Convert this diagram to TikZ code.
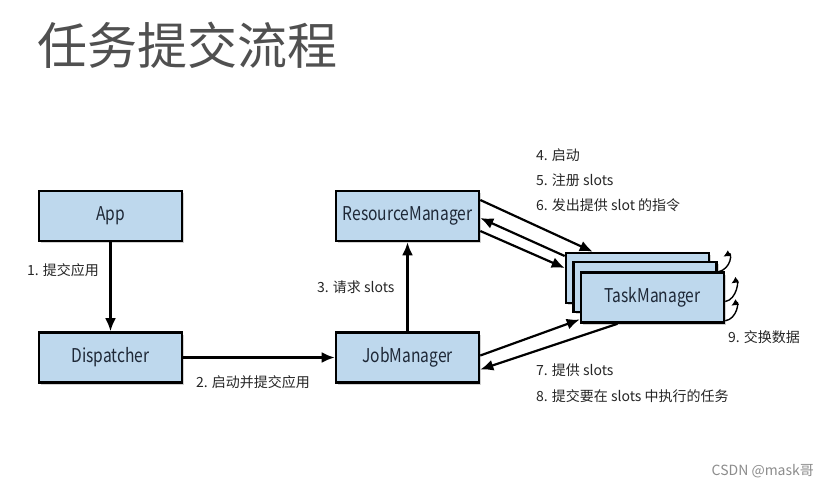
\documentclass[tikz,border=0pt]{standalone}
\usepackage{fontspec}
\setmainfont{Noto Sans CJK SC}
\usepackage{xcolor}
\usepackage{graphicx}
\usetikzlibrary{arrows.meta}
\usetikzlibrary{shadows}
\tikzset{>={Latex[length=13pt,width=11pt]}}
\definecolor{boxblue}{RGB}{190,216,237}
\definecolor{titlegray}{RGB}{80,80,80}
\definecolor{boxtext}{RGB}{30,40,55}
\newcommand{\cond}[1]{\scalebox{0.82}[1]{#1}}
\tikzset{box/.style = {draw=black,line width=2.6pt,fill=boxblue,minimum width=143pt,minimum height=50pt,inner sep=0pt,text=boxtext,font=\fontsize{19}{22}\selectfont,drop shadow={shadow xshift=2pt,shadow yshift=-2pt,opacity=0.35}}}
\tikzset{lbl/.style = {anchor=west,inner sep=0pt,text=black!85,font=\fontsize{14}{17}\selectfont}}
\tikzset{loop/.style = {->,line width=1.4pt,>={Latex[length=7pt,width=7pt]}}}

\begin{document}
\begin{tikzpicture}[x=1pt,y=-1pt,line width=2.2pt]
    \useasboundingbox[fill=white] (0,0) rectangle (828,490);
    \node[anchor=west,inner sep=0pt,text=titlegray,font=\fontsize{50}{56}\selectfont] (title) at (36,45) {任务提交流程};

    \node[box] (app) at (110.5,216) {\cond{App}};
    \node[box] (dispatcher) at (110.5,357.5) {\cond{Dispatcher}};
    \node[box] (resmgr) at (407.5,216) {\cond{ResourceManager}};
    \node[box] (jobmgr) at (407.5,357.5) {\cond{JobManager}};
    \node[box] (tmback) at (637.5,278) {};
    \node[box] (tmmid) at (645,287) {};
    \node[box] (tmfront) at (652.5,297.5) {\cond{TaskManager}};

    \draw[->] (app) -- (dispatcher);
    \draw[->] (dispatcher) -- (jobmgr);
    \draw[->] (jobmgr) -- (resmgr);

    \draw[->] ([yshift=16pt]resmgr.east) -- ([xshift=28pt]tmback.north west);
    \draw[->] ([yshift=22pt]tmback.west) -- ([yshift=-2pt]resmgr.east);
    \draw[->] ([yshift=-15pt]resmgr.east) -- ([yshift=10pt]tmback.west);

    \draw[->] ([yshift=2pt]jobmgr.east) -- ([yshift=-22pt]tmfront.west);
    \draw[->] ([xshift=-35pt]tmfront.south) -- ([yshift=-12pt]jobmgr.east);

    % data exchange between task managers
    \draw[loop] ([yshift=15pt]tmmid.east) .. controls +(14,-3) and +(9,-5) .. ([xshift=13pt,yshift=-5pt]tmback.north east);
    \draw[loop] ([yshift=-4pt]tmfront.east) .. controls +(12,-2) and +(8,-5) .. ([xshift=6pt,yshift=14pt]tmfront.east);
    \draw[loop] ([yshift=3pt]tmfront.south east) .. controls +(12,-2) and +(8,-5) .. ([xshift=6pt,yshift=18pt]tmfront.south east);

    \node[lbl] (l1) at (26,270) {1. 提交应用};
    \node[lbl] (l2) at (195,382) {2. 启动并提交应用};
    \node[lbl] (l3) at (316,287) {3. 请求 slots};
    \node[lbl] (l4) at (535,155) {4. 启动};
    \node[lbl] (l5) at (535,180) {5. 注册 slots};
    \node[lbl] (l6) at (535,205) {6. 发出提供 slot 的指令};
    \node[lbl] (l7) at (535,370) {7. 提供 slots};
    \node[lbl] (l8) at (535,396) {8. 提交要在 slots 中执行的任务};
    \node[lbl] (l9) at (727,337) {9. 交换数据};

    \node[anchor=east,inner sep=0pt,text=black!45,font=\fontsize{14}{16}\selectfont] (mark) at (815,471) {CSDN @mask哥};
\end{tikzpicture}
\end{document}
